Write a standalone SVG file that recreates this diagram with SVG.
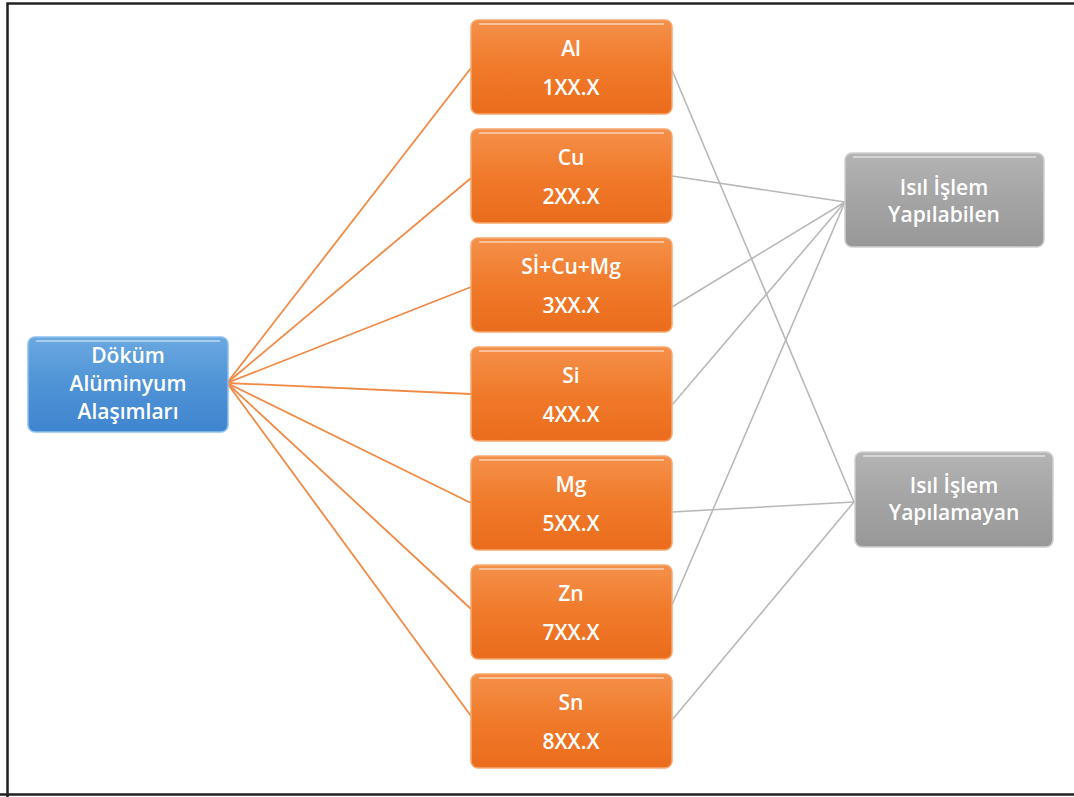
<svg xmlns="http://www.w3.org/2000/svg" width="1074" height="797" viewBox="0 0 1074 797">
<defs>
<linearGradient id="gOr" x1="0" y1="0" x2="0" y2="1">
<stop offset="0" stop-color="#f4904a"/><stop offset="0.5" stop-color="#f07a2a"/><stop offset="1" stop-color="#ea6c1c"/>
</linearGradient>
<linearGradient id="gBl" x1="0" y1="0" x2="0" y2="1">
<stop offset="0" stop-color="#6aa8e0"/><stop offset="0.5" stop-color="#4f93d6"/><stop offset="1" stop-color="#3f85cf"/>
</linearGradient>
<linearGradient id="gGr" x1="0" y1="0" x2="0" y2="1">
<stop offset="0" stop-color="#b4b4b4"/><stop offset="0.5" stop-color="#a4a4a4"/><stop offset="1" stop-color="#989898"/>
</linearGradient>
<style>
.or{fill:url(#gOr);stroke:#f6a86e;stroke-width:1.5}
.bl{fill:url(#gBl);stroke:#8cc0ec;stroke-width:1.5}
.gr{fill:url(#gGr);stroke:#d0d0d0;stroke-width:1.5}
.hl{fill:none;stroke:#ffffff;stroke-opacity:0.45;stroke-width:2}
.t{font-family:"Open Sans","Liberation Sans",sans-serif;font-size:21px;font-weight:600;fill:#ffffff;text-anchor:middle}
.co{stroke:#f08a45;stroke-width:1.8;fill:none}
.cg{stroke:#b8b8b8;stroke-width:1.6;fill:none}
</style>
</defs>
<rect x="0" y="0" width="1074" height="797" fill="#ffffff"/>
<path d="M7.5,797 V3.5 H1074 M0,794.5 H1074" fill="none" stroke="#222" stroke-width="2.5"/>
<g id="connectors">
<line class="co" x1="227" y1="383" x2="471" y2="68"/>
<line class="co" x1="227" y1="383" x2="471" y2="178"/>
<line class="co" x1="227" y1="383" x2="471" y2="287"/>
<line class="co" x1="227" y1="383" x2="471" y2="394"/>
<line class="co" x1="227" y1="383" x2="471" y2="503"/>
<line class="co" x1="227" y1="383" x2="471" y2="609"/>
<line class="co" x1="227" y1="383" x2="471" y2="716"/>
<line class="cg" x1="672" y1="70" x2="854" y2="502"/>
<line class="cg" x1="672" y1="176" x2="845" y2="202"/>
<line class="cg" x1="672" y1="307" x2="845" y2="202"/>
<line class="cg" x1="672" y1="405" x2="845" y2="202"/>
<line class="cg" x1="672" y1="512" x2="854" y2="502"/>
<line class="cg" x1="672" y1="605" x2="845" y2="202"/>
<line class="cg" x1="672" y1="720" x2="854" y2="502"/>
</g>
<g id="n-dokum">
<rect class="bl" x="28" y="337" width="200" height="95" rx="7"/>
<path class="hl" d="M36,341 H220"/>
<text class="t" x="128" y="363">Döküm</text>
<text class="t" x="128" y="391">Alüminyum</text>
<text class="t" x="128" y="419">Alaşımları</text>
</g>
<g id="n-al">
<rect class="or" x="471" y="20" width="201" height="94" rx="7"/>
<path class="hl" d="M479,24 H664"/>
<text class="t" x="571" y="56">Al</text>
<text class="t" x="571" y="95">1XX.X</text>
</g>
<g id="n-cu">
<rect class="or" x="471" y="129" width="201" height="94" rx="7"/>
<path class="hl" d="M479,133 H664"/>
<text class="t" x="571" y="165">Cu</text>
<text class="t" x="571" y="204">2XX.X</text>
</g>
<g id="n-sicumg">
<rect class="or" x="471" y="238" width="201" height="94" rx="7"/>
<path class="hl" d="M479,242 H664"/>
<text class="t" x="571" y="274">Sİ+Cu+Mg</text>
<text class="t" x="571" y="313">3XX.X</text>
</g>
<g id="n-si">
<rect class="or" x="471" y="347" width="201" height="94" rx="7"/>
<path class="hl" d="M479,351 H664"/>
<text class="t" x="571" y="383">Si</text>
<text class="t" x="571" y="422">4XX.X</text>
</g>
<g id="n-mg">
<rect class="or" x="471" y="456" width="201" height="94" rx="7"/>
<path class="hl" d="M479,460 H664"/>
<text class="t" x="571" y="492">Mg</text>
<text class="t" x="571" y="531">5XX.X</text>
</g>
<g id="n-zn">
<rect class="or" x="471" y="565" width="201" height="94" rx="7"/>
<path class="hl" d="M479,569 H664"/>
<text class="t" x="571" y="601">Zn</text>
<text class="t" x="571" y="640">7XX.X</text>
</g>
<g id="n-sn">
<rect class="or" x="471" y="674" width="201" height="94" rx="7"/>
<path class="hl" d="M479,678 H664"/>
<text class="t" x="571" y="710">Sn</text>
<text class="t" x="571" y="749">8XX.X</text>
</g>
<g id="n-yapilabilen">
<rect class="gr" x="845" y="153" width="199" height="94" rx="7"/>
<path class="hl" d="M853,157 H1036"/>
<text class="t" x="944" y="195">Isıl İşlem</text>
<text class="t" x="944" y="222">Yapılabilen</text>
</g>
<g id="n-yapilamayan">
<rect class="gr" x="855" y="452" width="198" height="95" rx="7"/>
<path class="hl" d="M863,456 H1045"/>
<text class="t" x="954" y="493">Isıl İşlem</text>
<text class="t" x="954" y="520">Yapılamayan</text>
</g>
</svg>
